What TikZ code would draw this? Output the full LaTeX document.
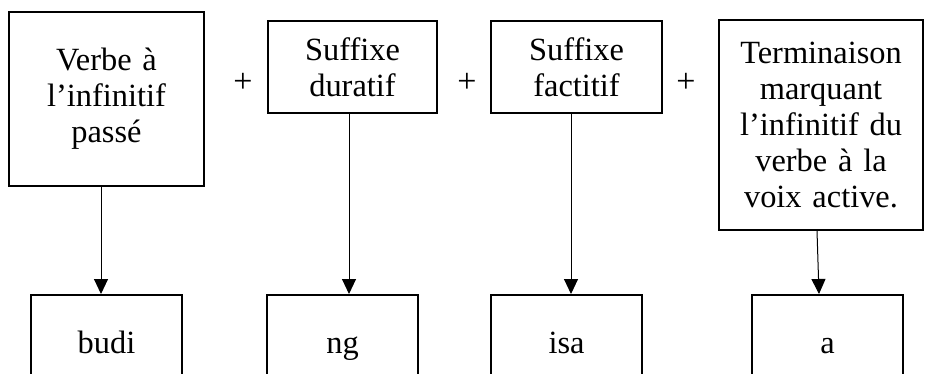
\documentclass[tikz,border=0pt]{standalone}
\usepackage{fontspec}
\setmainfont{Liberation Serif}
\usetikzlibrary{arrows.meta,positioning}

\begin{document}
\begin{tikzpicture}[
    x=0.5pt, y=-0.5pt,
    >={Triangle[length=7.5pt, width=7pt]},
    part/.style={draw, line width=1pt, align=center, inner sep=0pt, font=\fontsize{16.2}{18}\selectfont},
    morph/.style={draw, line width=1pt, align=center, minimum width=75.5pt, minimum height=50pt, inner sep=0pt, text height=11pt, text depth=3pt, font=\fontsize{16.2}{18}\selectfont},
    plus/.style={inner sep=0pt, font=\fontsize{17}{18}\selectfont},
    line/.style={->, line width=0.5pt}
]
\useasboundingbox (0,0) rectangle (925,374);

% Meaning of each part of the verb form.
\node[part, minimum width=97.5pt, minimum height=87pt, text width=95pt] (verbe) at (106.5,99) {Verbe à\\l’infinitif\\passé};
\node[part, minimum width=84.5pt, minimum height=46pt, text width=82pt] (duratif) at (352.5,67) {Suffixe\\duratif};
\node[part, minimum width=85.5pt, minimum height=46pt, text width=83pt] (factitif) at (576.5,67) {Suffixe\\factitif};
\node[part, minimum width=102pt, minimum height=105pt, text width=100pt] (termin) at (821,125) {Terminaison\\marquant\\l’infinitif du\\verbe à la\\voix active.};

% Plus signs between the parts.
\node[plus] (plusA) at (243,83) {+};
\node[plus] (plusB) at (467,83) {+};
\node[plus] (plusC) at (686,83) {+};

% Morphemes.
\node[morph] (budi) at (106.5,345) {budi};
\node[morph] (ng) at (342.5,345) {ng};
\node[morph] (isa) at (566.5,345) {isa};
\node[morph] (a) at (827.5,345) {a};

% Arrows from meaning to morpheme.
\draw[line] ([xshift=-2.75pt]verbe.south) -- ([xshift=-2.75pt]verbe.south |- budi.north);
\draw[line] ([xshift=-1.75pt]duratif.south) -- ([xshift=-1.75pt]duratif.south |- ng.north);
\draw[line] ([xshift=-2.75pt]factitif.south) -- ([xshift=-2.75pt]factitif.south |- isa.north);
\draw[line] ([xshift=-2pt]termin.south) -- ([xshift=-4.25pt]a.north);

\end{tikzpicture}
\end{document}
